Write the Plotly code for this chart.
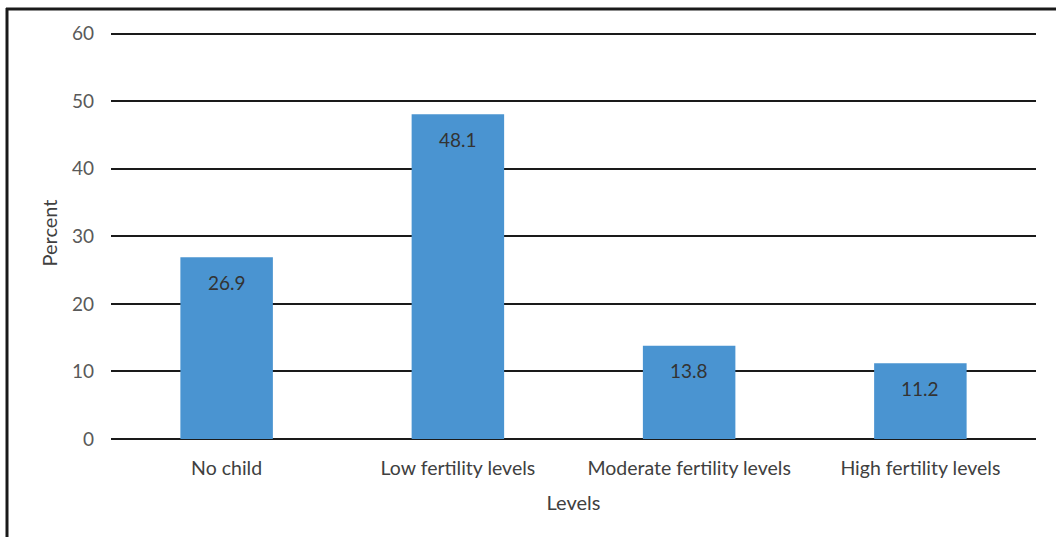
import plotly.graph_objects as go

categories = ["No child", "Low fertility levels", "Moderate fertility levels", "High fertility levels"]
values = [26.9, 48.1, 13.8, 11.2]
value_labels = ["26.9", "48.1", "13.8", "11.2"]
y_ticks = [0, 10, 20, 30, 40, 50, 60]

FONT = "Lato, Open Sans, sans-serif"
L, R, T, B = 111, 20, 27, 98
W, H = 1056, 537
plot_w = W - L - R
plot_h = H - T - B


def px_x(px):
    return (px - L) / plot_w


def px_y(py):
    return (H - B - py) / plot_h


fig = go.Figure(go.Bar(
    x=categories, y=values,
    marker=dict(color="#4A94D1", line=dict(width=0)),
    hoverinfo="x+y",
))

for c, v, t in zip(categories, values, value_labels):
    fig.add_annotation(x=c, y=v, text=t, showarrow=False, yanchor="middle",
                       yshift=-25, font=dict(color="#333333", size=19, family=FONT))

fig.update_layout(
    width=W, height=H,
    margin=dict(l=L, r=R, t=T, b=B, autoexpand=False),
    plot_bgcolor="white", paper_bgcolor="white",
    bargap=0.6, showlegend=False,
    font=dict(family=FONT, color="#595959", size=19),
    xaxis=dict(
        title=dict(text="Levels", font=dict(size=20, color="#404040"), standoff=18),
        showgrid=False, showline=False, ticks="", ticklabelstandoff=15,
        tickfont=dict(size=19.5, color="#404040"),
    ),
    yaxis=dict(
        title=dict(text="Percent", font=dict(size=20, color="#404040"), standoff=8),
        range=[0, 61], tickvals=y_ticks, showgrid=True, gridcolor="#1a1a1a", gridwidth=2,
        zeroline=True, zerolinecolor="#1a1a1a", zerolinewidth=2,
        showline=False, ticks="", ticklabelstandoff=16,
        tickfont=dict(size=19, color="#595959"),
    ),
    shapes=[
        dict(type="line", xref="paper", yref="paper", x0=px_x(6), x1=px_x(1070),
             y0=px_y(9), y1=px_y(9), line=dict(color="#1a1a1a", width=3)),
        dict(type="line", xref="paper", yref="paper", x0=px_x(7), x1=px_x(7),
             y0=px_y(8), y1=px_y(560), line=dict(color="#1a1a1a", width=3)),
    ],
)

fig.write_html("out.html")
